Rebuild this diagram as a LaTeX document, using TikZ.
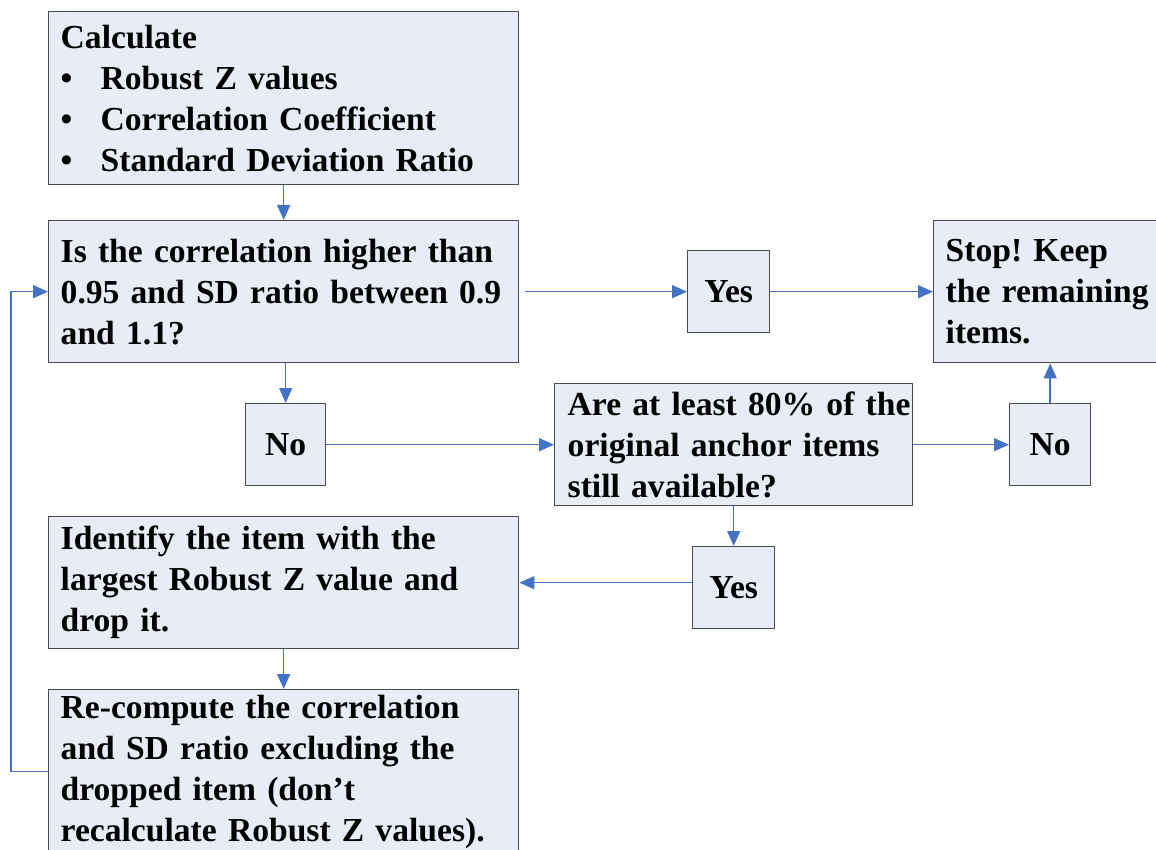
\documentclass[tikz,border=0pt]{standalone}
\usepackage{fontspec}
\setmainfont{Liberation Serif}
\usetikzlibrary{arrows.meta}
\definecolor{boxfill}{RGB}{231,236,247}
\definecolor{flowblue}{RGB}{68,114,196}
\newcommand{\bulletitem}{\makebox[20pt][l]{\textbullet}}
\begin{document}
\begin{tikzpicture}[
  x=0.5pt,y=-0.5pt,
  >={Triangle[length=7.5pt,width=6.5pt]},
  font=\fontsize{16.8}{20.5}\selectfont\bfseries\frenchspacing,
  stepbox/.style={draw=black!70,line width=0.7pt,fill=boxfill,anchor=north west,
    inner xsep=6pt,inner ysep=0pt,align=left},
  wide/.style={stepbox,minimum width=235pt,text width=223pt},
  answer/.style={stepbox,minimum width=41pt,minimum height=41pt,align=center},
  flow/.style={->,draw=flowblue,line width=0.75pt}
]
  \useasboundingbox (0,0) rectangle (1156,850);
  \clip (0,0) rectangle (1156,850);

  \node[wide,minimum height=86.5pt] (calc) at (48,11)
    {Calculate\\\bulletitem Robust Z values\\\bulletitem Correlation Coefficient\\\bulletitem Standard Deviation Ratio};
  \node[wide,minimum height=71pt] (check) at (48,220)
    {Is the correlation higher than\\0.95 and SD ratio between 0.9\\and 1.1?};
  \node[answer] (yes1) at (687,250) {Yes};
  \node[stepbox,minimum width=130pt,text width=118pt,minimum height=71pt] (stop) at (933,220)
    {Stop! Keep\\the remaining\\items.};
  \node[answer,minimum width=40pt] (no1) at (245,403) {No};
  \node[stepbox,inner xsep=6.5pt,minimum width=179pt,text width=166pt,minimum height=61pt] (anchors) at (554,383)
    {Are~at~least~80\%~of~the\\original anchor items\\still available?};
  \node[answer,minimum width=40.5pt] (no2) at (1009,403) {No};
  \node[answer] (yes2) at (692,546) {Yes};
  \node[wide,minimum height=66pt] (drop) at (48,516)
    {Identify the item with the\\largest Robust Z value and\\drop it.};
  \node[wide,minimum height=82pt] (recalc) at (48,689)
    {Re-compute the correlation\\and SD ratio excluding the\\dropped item (don’t\\recalculate Robust Z values).};

  \draw[flow] (calc) -- (check);
  \draw[flow,shorten <=3pt] (check.east |- yes1) -- (yes1);
  \draw[flow] (yes1) -- (yes1 -| stop.west);
  \draw[flow] (check.south -| no1) -- (no1);
  \draw[flow] (no1) -- (no1 -| anchors.west);
  \draw[flow] (anchors.east |- no2) -- (no2);
  \draw[flow] (no2.north) -- (no2.north |- stop.south);
  \draw[flow] (anchors.south -| yes2) -- (yes2);
  \draw[flow] (yes2.west |- drop.east) -- (drop.east);
  \draw[flow] (drop) -- (recalc);
  \draw[flow] (recalc.west) -- ++(-37,0) |- (check.west);
\end{tikzpicture}
\end{document}
